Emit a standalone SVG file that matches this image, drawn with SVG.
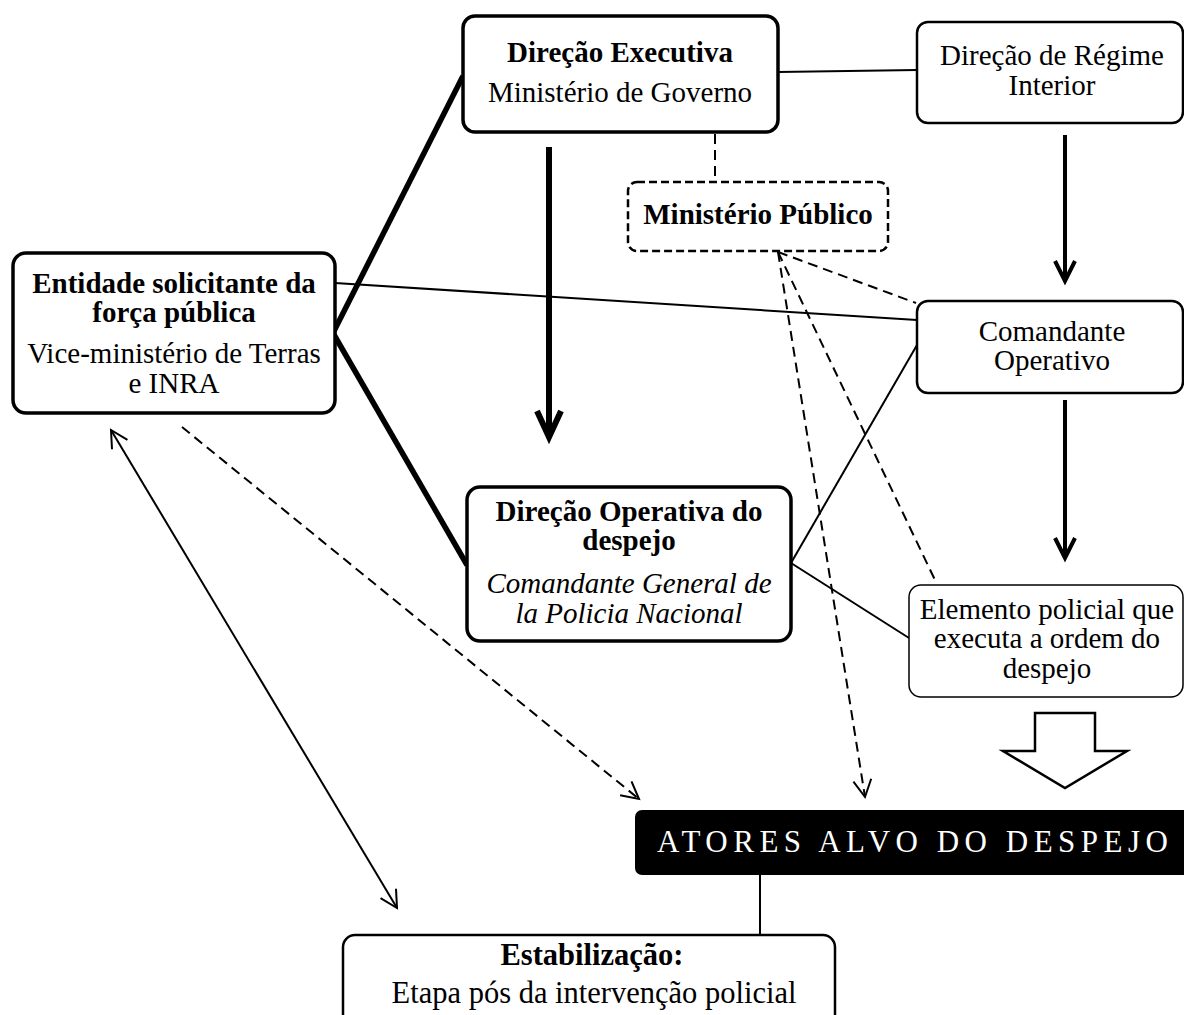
<svg xmlns="http://www.w3.org/2000/svg" width="1184" height="1015" viewBox="0 0 1184 1015">
  <style>
    .box { fill: #fff; stroke: #000; }
    .t { font-family: "Liberation Serif", "Times New Roman", serif; font-size: 29px; fill: #000; text-anchor: middle; }
    .b { font-weight: bold; }
    .i { font-style: italic; }
    .ln { fill: none; stroke: #000; stroke-width: 2; }
    .dash { fill: none; stroke: #000; stroke-width: 2; stroke-dasharray: 10 6; }
  </style>
  <defs>
    <marker id="chevBig" markerUnits="userSpaceOnUse" orient="auto" overflow="visible" markerWidth="1" markerHeight="1" refX="0" refY="0">
      <path d="M-26,-12 L0,0 L-26,12" fill="none" stroke="#000" stroke-width="6" stroke-dasharray="none"/>
    </marker>
    <marker id="chevMid" markerUnits="userSpaceOnUse" orient="auto" overflow="visible" markerWidth="1" markerHeight="1" refX="0" refY="0">
      <path d="M-20,-10 L0,0 L-20,10" fill="none" stroke="#000" stroke-width="4" stroke-dasharray="none"/>
    </marker>
    <marker id="chevThin" markerUnits="userSpaceOnUse" orient="auto-start-reverse" overflow="visible" markerWidth="1" markerHeight="1" refX="0" refY="0">
      <path d="M-17,-9 L0,0 L-17,9" fill="none" stroke="#000" stroke-width="2" stroke-dasharray="none"/>
    </marker>
  </defs>

  <rect width="1184" height="1015" fill="#fff"/>

  <!-- connectors -->
  <g id="connectors">
    <line x1="333" y1="333" x2="463" y2="76" stroke="#000" stroke-width="5.5"/>
    <line x1="333" y1="333" x2="467" y2="565" stroke="#000" stroke-width="5.5"/>
    <line class="ln" x1="335" y1="283" x2="917" y2="320"/>
    <line class="ln" x1="778" y1="72" x2="917" y2="70"/>
    <line x1="549" y1="147" x2="549" y2="437" stroke="#000" stroke-width="6" marker-end="url(#chevBig)"/>
    <line x1="1065" y1="135" x2="1065" y2="281" stroke="#000" stroke-width="4" marker-end="url(#chevMid)"/>
    <line x1="1065" y1="400" x2="1065" y2="558" stroke="#000" stroke-width="4" marker-end="url(#chevMid)"/>
    <line class="dash" x1="715" y1="134" x2="715" y2="182" stroke-dasharray="8 4"/>
    <line class="dash" x1="778" y1="252" x2="916" y2="303"/>
    <line class="dash" x1="778" y1="252" x2="935" y2="580"/>
    <line class="dash" x1="778" y1="252" x2="865" y2="797" marker-end="url(#chevThin)"/>
    <line class="dash" x1="182" y1="427" x2="639" y2="799" marker-end="url(#chevThin)"/>
    <line class="ln" x1="111" y1="430" x2="397" y2="908" marker-start="url(#chevThin)" marker-end="url(#chevThin)"/>
    <line class="ln" x1="791" y1="563" x2="917" y2="345"/>
    <line class="ln" x1="791" y1="563" x2="909" y2="638"/>
    <line class="ln" x1="760" y1="875" x2="760" y2="935"/>
    <polygon points="1035,713 1095,713 1095,751 1127,751 1065,788 1003,751 1035,751" fill="#fff" stroke="#000" stroke-width="2.5" stroke-linejoin="miter"/>
  </g>

  <!-- nodes -->
  <g id="direcao-executiva">
    <rect class="box" x="463" y="16" width="315" height="116" rx="12" stroke-width="3.5"/>
    <text class="t b" x="620" y="62">Direção Executiva</text>
    <text class="t" x="620" y="102">Ministério de Governo</text>
  </g>

  <g id="direcao-regime-interior">
    <rect class="box" x="917" y="22" width="266" height="101" rx="11" stroke-width="2.5"/>
    <text class="t" x="1052" y="65">Direção de Régime</text>
    <text class="t" x="1052" y="95">Interior</text>
  </g>

  <g id="ministerio-publico">
    <rect class="box" x="628" y="182" width="260" height="69" rx="9" stroke-width="2.5" stroke-dasharray="8 4"/>
    <text class="t b" x="758" y="224">Ministério Público</text>
  </g>

  <g id="entidade-solicitante">
    <rect class="box" x="13" y="253" width="322" height="160" rx="13" stroke-width="3.5"/>
    <text class="t b" x="174" y="293">Entidade solicitante da</text>
    <text class="t b" x="174" y="322">força pública</text>
    <text class="t" x="174" y="363">Vice-ministério de Terras</text>
    <text class="t" x="174" y="393">e INRA</text>
  </g>

  <g id="comandante-operativo">
    <rect class="box" x="917" y="301" width="266" height="92" rx="11" stroke-width="2.5"/>
    <text class="t" x="1052" y="341">Comandante</text>
    <text class="t" x="1052" y="370">Operativo</text>
  </g>

  <g id="direcao-operativa">
    <rect class="box" x="467" y="487" width="324" height="154" rx="13" stroke-width="3.5"/>
    <text class="t b" x="629" y="521">Direção Operativa do</text>
    <text class="t b" x="629" y="550">despejo</text>
    <text class="t i" x="629" y="593">Comandante General de</text>
    <text class="t i" x="629" y="623">la Policia Nacional</text>
  </g>

  <g id="elemento-policial">
    <rect class="box" x="909" y="585" width="274" height="112" rx="12" stroke-width="1.5"/>
    <text class="t" x="1047" y="619">Elemento policial que</text>
    <text class="t" x="1047" y="648">executa a ordem do</text>
    <text class="t" x="1047" y="678">despejo</text>
  </g>

  <g id="atores-alvo">
    <rect x="635" y="810" width="560" height="65" rx="7" fill="#000"/>
    <text class="t" x="657" y="852" style="text-anchor:start;fill:#fff;font-size:31px" textLength="511" lengthAdjust="spacing">ATORES ALVO DO DESPEJO</text>
  </g>

  <g id="estabilizacao">
    <rect class="box" x="343" y="935" width="492" height="110" rx="12" stroke-width="2.5"/>
    <text class="t b" x="592" y="965" style="font-size:30.5px">Estabilização:</text>
    <text class="t" x="594" y="1003" style="font-size:30.5px">Etapa pós da intervenção policial</text>
  </g>
</svg>
